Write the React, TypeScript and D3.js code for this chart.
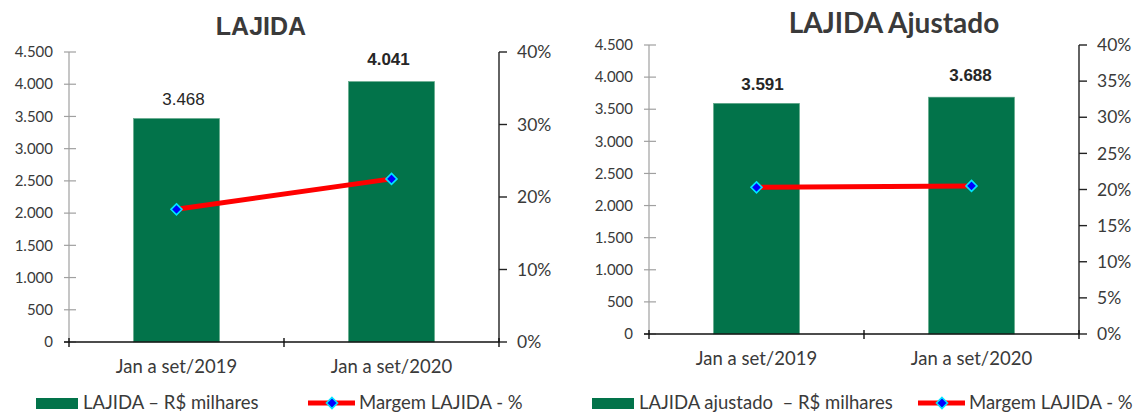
import * as d3 from 'd3'

// categories and values
const categories = ['Jan a set/2019', 'Jan a set/2020']
const lajida = [3468, 4041]
const lajidaMargin = [0.183, 0.225]
const lajidaAdj = [3591, 3688]
const lajidaAdjMargin = [0.203, 0.205]
const leftTicks = [0, 500, 1000, 1500, 2000, 2500, 3000, 3500, 4000, 4500]
const pctTicksA = [0, 0.1, 0.2, 0.3, 0.4]
const pctTicksB = [0, 0.05, 0.1, 0.15, 0.2, 0.25, 0.3, 0.35, 0.4]

const GREEN = '#02734a'
const TEXT = '#3a3a3a'
const CALIBRI = 'Lato, "Open Sans", sans-serif'
const ARIAL = '"Liberation Sans", Arial, sans-serif'

const locale = d3.formatLocale({ decimal: ',', thousands: '.', grouping: [3], currency: ['R$', ''] })
const fmtNum = locale.format(',d')
const fmtPct = d3.format('.0%')

interface PanelProps {
	title: string
	titleFont: string
	titleSize: number
	titleX: number
	titleY: number
	values: number[]
	margins: number[]
	pctTicks: number[]
	x0: number
	x1: number
	yTop: number
	yBottom: number
	labelBold: boolean[]
	labelDx: number[]
	labelDy: number[]
	barLegend: string
	legendRectX: number
	legendLineX: number
}

const Panel = (p: PanelProps) => {
	const x = d3.scaleBand<string>().domain(categories).range([p.x0, p.x1]).paddingInner(0.6).paddingOuter(0.3)
	const y = d3.scaleLinear().domain([0, 4500]).range([p.yBottom, p.yTop])
	const y2 = d3.scaleLinear().domain([0, 0.4]).range([p.yBottom, p.yTop])
	const cx = (c: string) => x(c)! + x.bandwidth() / 2
	const line = d3
		.line<number>()
		.x((_, i) => cx(categories[i]))
		.y((d) => y2(d))
	const diamond = (px: number, py: number, r: number) =>
		`M${px},${py - r}L${px + r},${py}L${px},${py + r}L${px - r},${py}Z`
	const legendY = 403

	return (
		<g>
			<text
				x={p.titleX}
				y={p.titleY}
				textAnchor='middle'
				fontFamily={p.titleFont}
				fontWeight='bold'
				fontSize={p.titleSize}
				fill={TEXT}
			>
				{p.title}
			</text>

			{/* left axis */}
			<line x1={p.x0} x2={p.x0} y1={p.yTop} y2={p.yBottom} stroke='#a0a0a0' strokeWidth={1.2} />
			{leftTicks.map((t) => (
				<g key={t}>
					<line x1={p.x0 - 5} x2={p.x0 + 7} y1={y(t)} y2={y(t)} stroke='#a0a0a0' strokeWidth={1.2} />
					<text
						x={p.x0 - 16}
						y={y(t)}
						dy='0.35em'
						textAnchor='end'
						fontFamily={CALIBRI}
						fontSize={15}
						fill={TEXT}
					>
						{fmtNum(t)}
					</text>
				</g>
			))}

			{/* bars */}
			{p.values.map((v, i) => (
				<rect
					key={i}
					x={x(categories[i])}
					y={y(v)}
					width={x.bandwidth()}
					height={p.yBottom - y(v)}
					fill={GREEN}
					stroke='#5fa888'
					strokeWidth={0.6}
				/>
			))}
			{p.values.map((v, i) => (
				<text
					key={i}
					x={cx(categories[i]) + p.labelDx[i]}
					y={y(v) - p.labelDy[i]}
					textAnchor='middle'
					fontFamily={ARIAL}
					fontWeight={p.labelBold[i] ? 'bold' : 'normal'}
					fontSize={17}
					fill='#262626'
				>
					{fmtNum(v)}
				</text>
			))}

			{/* right axis */}
			<line x1={p.x1} x2={p.x1} y1={p.yTop} y2={p.yBottom} stroke='#222' strokeWidth={1.4} />
			{p.pctTicks.map((t) => (
				<g key={t}>
					<line x1={p.x1} x2={p.x1 + 8} y1={y2(t)} y2={y2(t)} stroke='#222' strokeWidth={1.4} />
					<text
						x={p.x1 + 18}
						y={y2(t)}
						dy='0.35em'
						fontFamily={CALIBRI}
						fontSize={17.5}
						fill={TEXT}
					>
						{fmtPct(t)}
					</text>
				</g>
			))}

			{/* x axis */}
			<line x1={p.x0 - 5} x2={p.x1} y1={p.yBottom} y2={p.yBottom} stroke='#111' strokeWidth={1.6} />
			{[p.x0, p.x0 + x.step(), p.x1].map((tx, i) => (
				<line key={i} x1={tx} x2={tx} y1={p.yBottom - 4} y2={p.yBottom + 5} stroke='#111' strokeWidth={1.4} />
			))}
			{categories.map((c) => (
				<text
					key={c}
					x={cx(c)}
					y={p.yBottom + 31}
					textAnchor='middle'
					fontFamily={CALIBRI}
					fontSize={18.5}
					fill={TEXT}
				>
					{c}
				</text>
			))}

			{/* margin line */}
			<path d={line(p.margins) ?? ''} fill='none' stroke='#ff0000' strokeWidth={5} />
			{p.margins.map((m, i) => (
				<path
					key={i}
					d={diamond(cx(categories[i]), y2(m), 5.5)}
					fill='#0000ff'
					stroke='#00e5ff'
					strokeWidth={1.6}
				/>
			))}

			{/* legend */}
			<rect x={p.legendRectX} y={legendY - 5} width={42} height={11} fill={GREEN} />
			<text
				x={p.legendRectX + 47}
				y={legendY}
				dy='0.35em'
				fontFamily={CALIBRI}
				fontSize={18.5}
				fill={TEXT}
				style={{ whiteSpace: 'pre' }}
			>
				{p.barLegend}
			</text>
			<line
				x1={p.legendLineX}
				x2={p.legendLineX + 47}
				y1={legendY}
				y2={legendY}
				stroke='#ff0000'
				strokeWidth={5}
			/>
			<path d={diamond(p.legendLineX + 24, legendY, 5.5)} fill='#0000ff' stroke='#00e5ff' strokeWidth={1.6} />
			<text x={p.legendLineX + 51} y={legendY} dy='0.35em' fontFamily={CALIBRI} fontSize={18.5} fill={TEXT}>
				Margem LAJIDA - %
			</text>
		</g>
	)
}

export default function App() {
	return (
		<div style={{ position: 'fixed', left: 0, top: 0, background: '#fff' }}>
			<svg width={1136} height={412} style={{ display: 'block' }}>
				<rect width={1136} height={412} fill='#fff' />
				<Panel
					title='LAJIDA'
					titleFont={ARIAL}
					titleSize={25}
					titleX={261}
					titleY={35}
					values={lajida}
					margins={lajidaMargin}
					pctTicks={pctTicksA}
					x0={69}
					x1={499}
					yTop={52}
					yBottom={342}
					labelBold={[false, true]}
					labelDx={[7, -3]}
					labelDy={[14, 17]}
					barLegend='LAJIDA – R$ milhares'
					legendRectX={36}
					legendLineX={308}
				/>
				<Panel
					title='LAJIDA Ajustado'
					titleFont={CALIBRI}
					titleSize={28}
					titleX={894}
					titleY={33}
					values={lajidaAdj}
					margins={lajidaAdjMargin}
					pctTicks={pctTicksB}
					x0={649}
					x1={1079}
					yTop={45}
					yBottom={334}
					labelBold={[true, true]}
					labelDx={[6, -1]}
					labelDy={[13, 16]}
					barLegend='LAJIDA ajustado  – R$ milhares'
					legendRectX={592}
					legendLineX={918}
				/>
			</svg>
		</div>
	)
}
